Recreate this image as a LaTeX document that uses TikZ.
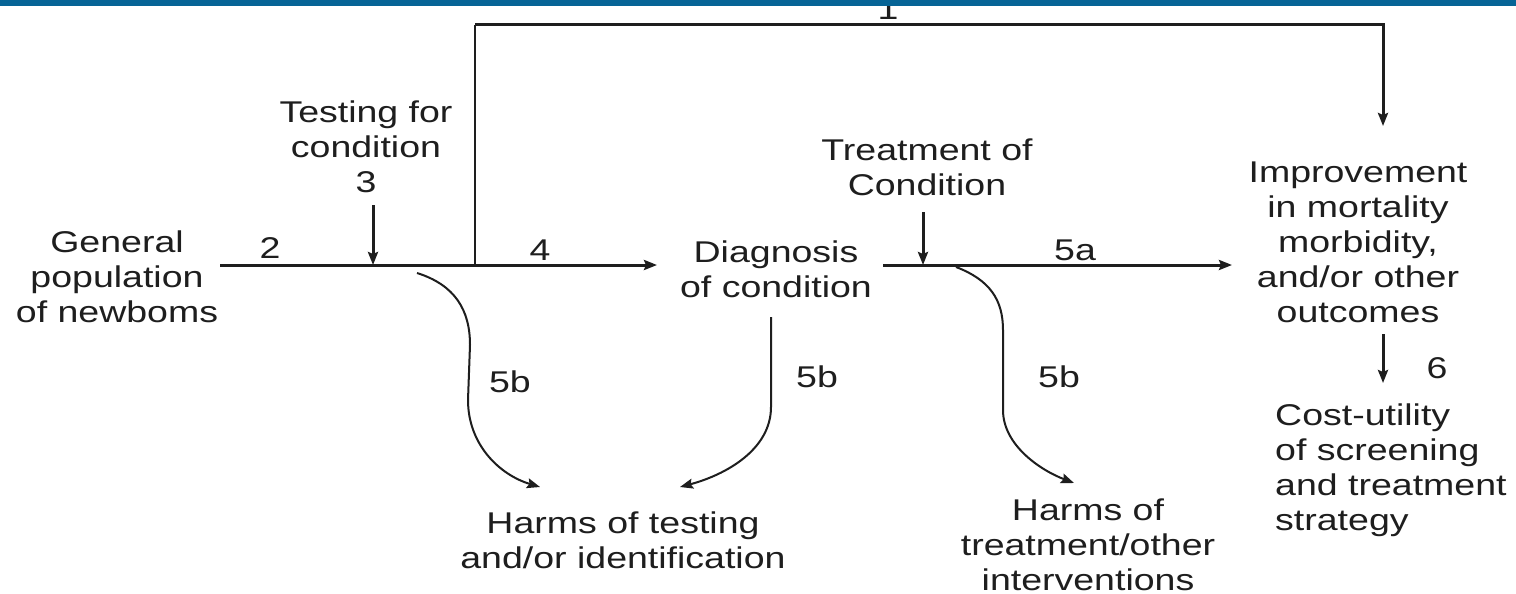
\documentclass[tikz,border=0pt]{standalone}
\usepackage{fontspec}
\setmainfont{Liberation Sans}[FakeStretch=1.25]
\usetikzlibrary{arrows.meta}
\definecolor{barblue}{RGB}{6,100,150}
\definecolor{ink}{RGB}{30,30,30}
\begin{document}
\begin{tikzpicture}[x=1pt,y=-1pt,
  txt/.style={inner sep=0pt, align=center, text=ink, font=\fontsize{30}{35}\selectfont},
  lbl/.style={inner sep=0pt, text=ink, font=\fontsize{30}{35}\selectfont},
  mainline/.style={draw=ink, line width=3pt},
  thinline/.style={draw=ink, line width=2pt},
  tip/.style={-{Stealth[length=13pt,width=10pt,inset=2pt]}}
]
\useasboundingbox (0,0) rectangle (1516,594);
\fill[white] (0,0) rectangle (1516,594);
\node[lbl, anchor=base] (l1) at (888,20) {1};
\fill[barblue] (0,0) rectangle (1516,6);

% text nodes
\node[txt] (gen) at (117,277) {General\\population\\of newboms};
\node[txt] (test) at (366,147) {Testing for\\condition\\3};
\node[txt] (diag) at (776,269) {Diagnosis\\of condition};
\node[txt] (treat) at (927,167) {Treatment of\\Condition};
\node[txt] (impr) at (1358,242) {Improvement\\in mortality\\morbidity,\\and/or other\\outcomes};
\node[txt, align=left, anchor=west] (cost) at (1275,470) {Cost-utility\\of screening\\and treatment\\strategy};
\node[txt] (harmT) at (623,540) {Harms of testing\\and/or identification};
\node[txt] (harmR) at (1088,545) {Harms of\\treatment/other\\interventions};

% labels
\node[lbl] (n2) at (270,248) {2};
\node[lbl] (n4) at (540,250) {4};
\node[lbl] (n5a) at (1075,250) {5a};
\node[lbl] (n5b1) at (510,382) {5b};
\node[lbl] (n5b2) at (817,377) {5b};
\node[lbl] (n5b3) at (1059,377) {5b};
\node[lbl] (n6) at (1437,368) {6};

% coordinates
\coordinate (a0) at (220,265);
\coordinate (j3) at (373,265);
\coordinate (t3) at (373,205);
\coordinate (jv) at (475,265);
\coordinate (a1) at (657,265);
\coordinate (c1) at (475,25);
\coordinate (c2) at (1383,25);
\coordinate (ie) at (1383,126);
\coordinate (b0) at (883,265);
\coordinate (b1) at (1232,265);
\coordinate (tr0) at (923,212);
\coordinate (tr1) at (923,265);
\coordinate (s0) at (1383,334);
\coordinate (s1) at (1383,383);
\coordinate (k1) at (417,273);
\coordinate (k2) at (771,317);
\coordinate (k3) at (956,267);
\coordinate (e1) at (540,487);
\coordinate (e2) at (680,487);
\coordinate (e3) at (1074,483);

% main flow
\draw[mainline, tip] (a0) -- (a1);
\draw[mainline, tip] (t3) -- (j3);
\draw[thinline] (jv) -- (c1);
\draw[mainline, tip] (c1) -- (c2) -- (ie);
\draw[mainline, tip] (b0) -- (b1);
\draw[mainline, tip] (tr0) -- (tr1);
\draw[mainline, tip] (s0) -- (s1);

% harms curves
\draw[thinline, tip] (k1) .. controls (455,285) and (470,310) .. (470,345)
  -- (468,400) .. controls (468,445) and (500,475) .. (e1);
\draw[thinline, tip] (k2) -- (771,407) .. controls (771,450) and (725,475) .. (e2);
\draw[thinline, tip] (k3) .. controls (990,280) and (1003,300) .. (1003,330)
  -- (1003,410) .. controls (1003,445) and (1040,470) .. (e3);
\end{tikzpicture}
\end{document}
